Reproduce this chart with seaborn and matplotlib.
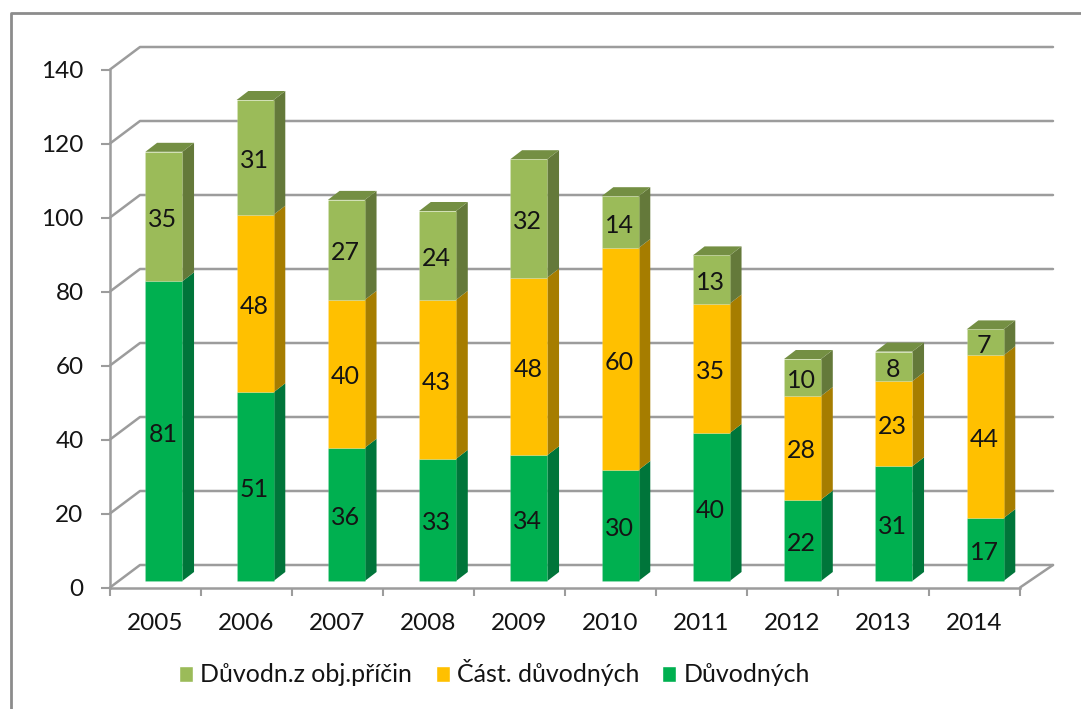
import matplotlib
matplotlib.use("Agg")
import matplotlib.pyplot as plt
import seaborn as sns
import pandas as pd
from matplotlib.lines import Line2D
from matplotlib.patches import Patch, Polygon
from matplotlib.transforms import Affine2D

years = ["2005", "2006", "2007", "2008", "2009", "2010", "2011", "2012", "2013", "2014"]
duvodnych = [81, 51, 36, 33, 34, 30, 40, 22, 31, 17]
castecne = [0, 48, 40, 43, 48, 60, 35, 28, 23, 44]
objektivni = [35, 31, 27, 24, 32, 14, 13, 10, 8, 7]
y_ticks = [0, 20, 40, 60, 80, 100, 120, 140]

GREEN = "#00B050"
GOLD = "#FFC000"
OLIVE = "#9BBB59"
GREY = "#9C9C9C"
INK = "#141414"

W, H = 1081, 709
sns.set_theme(style="white")
plt.rcParams["font.family"] = ["Lato", "DejaVu Sans"]

df = pd.DataFrame({"year": years, "a": duvodnych, "b": castecne, "c": objektivni})

fig = plt.figure(figsize=(W / 100, H / 100), dpi=100, facecolor="white")
# front edge of the 3d floor is the real axis
ax = fig.add_axes([110 / W, 1 - 587.5 / H, 910 / W, 518 / H])
ax.set_xlim(-0.5, 9.5)
ax.set_ylim(0, 140)
ax.patch.set_alpha(0)

px_x = 91.0   # pixels per category
px_y = 3.7    # pixels per unit
# bars sit a bit behind the front edge and have a slightly wider pitch than the ticks
bar_shift = ax.transData + Affine2D().scale(91.25 / 91, 1).translate(7.9, 6.5)
label_shift = bar_shift + Affine2D().translate(-1, -3)

# back wall and floor
for v in y_ticks:
    ax.plot([-0.5, -0.5 + 30 / px_x, 9.5 + 33 / px_x],
            [v, v + 22.5 / px_y, v + 22.5 / px_y],
            color=GREY, lw=1.8, clip_on=False, zorder=1)
ax.plot([9.5, 9.5 + 33 / px_x], [0, 22.5 / px_y], color=GREY, lw=1.8, clip_on=False, zorder=1)

# stacked front faces
segments = [("a", GREEN, "#00753A"),
            ("b", GOLD, "#A67D00"),
            ("c", OLIVE, "#64793A")]
bottom = pd.Series([0] * len(years))
dx = 11.7 / px_x
dy = 9.0 / px_y
for name, col, side in segments:
    before = len(ax.patches)
    sns.barplot(data=df, x="year", y=name, bottom=bottom, color=col, saturation=1,
                width=0.405, ax=ax, zorder=3, edgecolor=(1, 1, 1, 0.12), linewidth=0.8)
    for p, val in zip(ax.patches[before:], df[name]):
        p.set_transform(bar_shift)
        if val == 0:
            p.set_visible(False)
            continue
        x0 = p.get_x()
        x1 = x0 + p.get_width()
        y0 = p.get_y()
        y1 = y0 + p.get_height()
        ax.add_patch(Polygon([(x1, y0), (x1 + dx, y0 + dy), (x1 + dx, y1 + dy), (x1, y1)],
                             facecolor=side, edgecolor="none", transform=bar_shift,
                             clip_on=False, zorder=2.5))
        ax.text((x0 + x1) / 2, (y0 + y1) / 2, str(val), transform=label_shift, ha="center",
                va="center", fontsize=18, color=INK, zorder=5)
    bottom = bottom + df[name]

# bar tops
for p, total in zip(ax.patches[:len(years)], bottom):
    x0 = p.get_x()
    x1 = x0 + p.get_width()
    ax.add_patch(Polygon([(x0, total), (x1, total), (x1 + dx, total + dy), (x0 + dx, total + dy)],
                         facecolor="#748F43", edgecolor="none", transform=bar_shift,
                         clip_on=False, zorder=2.5))

ax.set_xlabel("")
ax.set_ylabel("")
ax.set_yticks(y_ticks)
ax.set_xticks(range(len(years)), years)
ax.set_xticks([i - 0.5 for i in range(len(years) + 1)], minor=True)
ax.tick_params(axis="x", which="major", length=0, pad=18, labelsize=17.5, labelcolor=INK)
ax.tick_params(axis="x", which="minor", length=5.5, width=1.5, color=GREY, bottom=True)
ax.tick_params(axis="y", length=6.5, width=1.5, color=GREY, pad=12.5, left=True,
               labelsize=17.5, labelcolor=INK)
for s in ["top", "right"]:
    ax.spines[s].set_visible(False)
for s in ["left", "bottom"]:
    ax.spines[s].set_color(GREY)
    ax.spines[s].set_linewidth(1.8)

# legend
handles = [Patch(facecolor=OLIVE, label="Důvodn.z obj.příčin"),
           Patch(facecolor=GOLD, label="Část. důvodných"),
           Patch(facecolor=GREEN, label="Důvodných")]
fig.legend(handles=handles, ncol=3, loc="center", bbox_to_anchor=(494.5 / W, 1 - 673 / H),
           frameon=False, fontsize=18, handlelength=0.56, handleheight=0.6,
           handletextpad=0.28, columnspacing=0.94, labelcolor=INK)

# chart border, cut off by the image at right and bottom
fig.add_artist(Line2D([10.5 / W, 10.5 / W, 1], [0, 1 - 12.5 / H, 1 - 12.5 / H],
                      color="#8C8C8C", lw=2))

fig.savefig("out.png", dpi=100)
